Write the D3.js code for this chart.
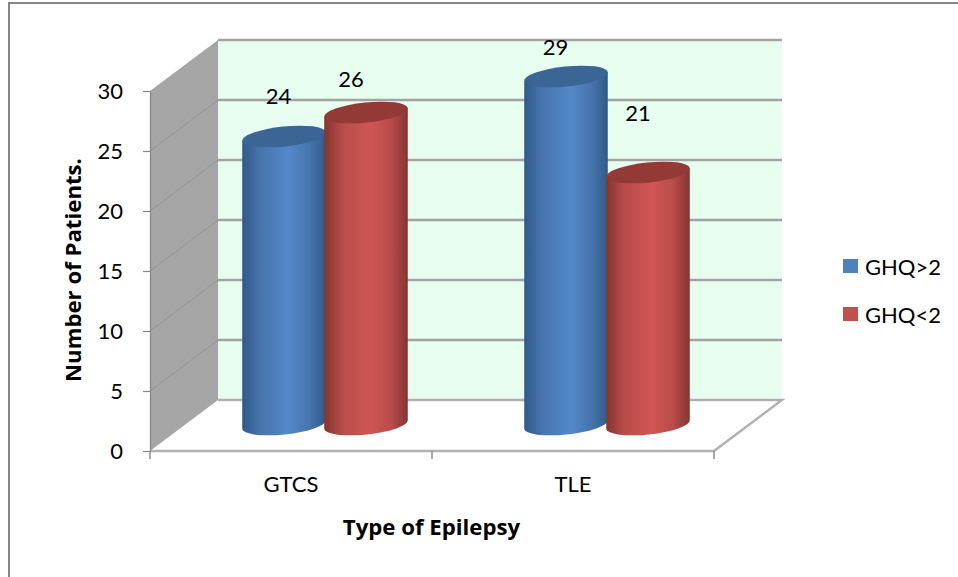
<!DOCTYPE html>
<html>
<head>
<meta charset="utf-8">
<script src="https://cdn.jsdelivr.net/npm/d3@7"></script>
<style>
html,body{margin:0;padding:0;background:#fff}
svg{display:block}
text{fill:#000}
</style>
</head>
<body>
<svg id="chart" width="958" height="577"></svg>
<script>
// Chart content
const categories = ["GTCS", "TLE"];
const seriesNames = ["GHQ>2", "GHQ<2"];
const ghqAbove2 = [24, 29];
const ghqBelow2 = [26, 21];
const yTicks = [0, 5, 10, 15, 20, 25, 30];
const xTitle = "Type of Epilepsy";
const yTitle = "Number of Patients.";

// Palette per series: body edge, body mid, body highlight, cap, legend
const bodyEdge = ["#305a8a", "#853431"];
const bodyMid = ["#4775ac", "#b84c49"];
const bodyLight = ["#5388cb", "#cf5654"];
const capFill = ["#3b6595", "#933a37"];
const swatchFill = ["#4f81bd", "#c0504d"];

// Data labels sit away from the bars, as hand-dragged labels do
const labelShiftX = [[-5.5, -15], [-10.5, -10]];
const labelShiftY = [[-41, -34], [-30, -60]];

const svg = d3.select("#chart").style("font-family", "Lato, sans-serif");
const depthX = 68, depthY = 51;
const plotLeft = 150, plotRight = 714, plotBottom = 451, plotTop = 91;
const labelSize = 22;
const titleSize = 22.2;
const titleFont = "'Open Sans', sans-serif";

// Front-plane scales; the back wall is the same plane shifted by the depth
const y = d3.scaleLinear().domain([0, 30]).range([plotBottom, plotTop]);
const xFront = d3.scaleBand().domain(categories).range([plotLeft, plotRight]);
const xGroup = d3.scaleBand().domain(categories).range([plotLeft + depthX / 2, plotRight + depthX / 2]);
const xSeries = d3.scaleBand().domain(seriesNames).range([59, 223]);
// Bars stand in the middle of the floor
const yBar = d3.scaleLinear().domain([0, 30]).range([plotBottom - 26.5, plotTop - 26.5]);

// Chart frame: only the top and left edges are visible
svg.append("path").attr("d", "M958,3H9V577").attr("fill", "none")
  .attr("stroke", "#868686").attr("stroke-width", 2);

// Floor
svg.append("path")
  .attr("d", `M${plotLeft},${plotBottom}L${plotLeft + depthX},${plotBottom - depthY}H${plotRight + depthX}L${plotRight},${plotBottom}Z`)
  .attr("fill", "#fff");

// Back wall
svg.append("rect")
  .attr("x", plotLeft + depthX).attr("y", plotTop - depthY)
  .attr("width", plotRight - plotLeft).attr("height", plotBottom - plotTop)
  .attr("fill", "#e7fdf0");

// Side wall
svg.append("path")
  .attr("d", `M${plotLeft},${plotBottom}V${plotTop}L${plotLeft + depthX},${plotTop - depthY}V${plotBottom - depthY}Z`)
  .attr("fill", "#a6a6a6");

// Gridlines on both walls
const grid = svg.append("g");
grid.selectAll("line.back").data(yTicks.slice(1)).join("line")
  .attr("class", "back")
  .attr("x1", plotLeft + depthX).attr("x2", plotRight + depthX)
  .attr("y1", d => y(d) - depthY).attr("y2", d => y(d) - depthY)
  .attr("stroke", "#a3a3a3").attr("stroke-width", 2.6);
grid.selectAll("line.side").data(yTicks.slice(1, -1)).join("line")
  .attr("class", "side")
  .attr("x1", plotLeft).attr("x2", plotLeft + depthX)
  .attr("y1", d => y(d)).attr("y2", d => y(d) - depthY)
  .attr("stroke", "#929292").attr("stroke-width", 1);

// Floor edges
svg.append("path")
  .attr("d", `M${plotLeft + depthX},${plotBottom - depthY}H${plotRight + depthX}L${plotRight},${plotBottom}H${plotLeft}`)
  .attr("fill", "none").attr("stroke", "#b0b0b0").attr("stroke-width", 2.4);

// Y axis
const yAxis = svg.append("g").attr("transform", `translate(${plotLeft},0)`)
  .call(d3.axisLeft(y).tickValues(yTicks).tickSize(7).tickPadding(20));
yAxis.selectAll("line,path").attr("stroke", "#868686").attr("stroke-width", 1.2);
yAxis.attr("font-family", null);
yAxis.selectAll("text").attr("font-size", labelSize);

// X axis: ticks at the band edges, names at the band centres
const xAxisLine = svg.append("g");
xAxisLine.selectAll("line").data([...categories.map(c => xFront(c)), plotRight]).join("line")
  .attr("x1", d => d).attr("x2", d => d)
  .attr("y1", plotBottom).attr("y2", plotBottom + 8)
  .attr("stroke", "#868686").attr("stroke-width", 1.4);
const xAxis = svg.append("g").attr("transform", `translate(0,${plotBottom})`)
  .call(d3.axisBottom(xFront).tickSize(0).tickPadding(25));
xAxis.select("path").remove();
xAxis.attr("font-family", null);
xAxis.selectAll("text").attr("font-size", labelSize);

// Cylinders
const defs = svg.append("defs");
seriesNames.forEach((s, i) => {
  const g = defs.append("linearGradient").attr("id", `body${i}`);
  [[0, bodyEdge[i]], [0.22, bodyMid[i]], [0.55, bodyLight[i]], [0.8, bodyMid[i]], [1, bodyEdge[i]]]
    .forEach(([o, c]) => g.append("stop").attr("offset", o).attr("stop-color", c));
});

const rows = [ghqAbove2, ghqBelow2];
const tilt = 6 * Math.PI / 180;
const bars = svg.append("g");
// The red cylinder is drawn after the blue one so it overlaps at the seam
seriesNames.forEach((s, si) => {
  categories.forEach((c, ci) => {
    const v = rows[si][ci];
    const w = xSeries.bandwidth();
    const cx = xGroup(c) + xSeries(s) + w / 2;
    const rx = w / 2 + 1, ry = 10;
    const dx = rx * Math.cos(tilt), dy = rx * Math.sin(tilt);
    const yt = yBar(v), yb = yBar(0);
    const deg = -tilt * 180 / Math.PI;
    bars.append("path")
      .attr("d", `M${cx - dx},${yt + dy}L${cx - dx},${yb + dy}` +
        `A${rx},${ry} ${deg} 0 0 ${cx + dx},${yb - dy}` +
        `L${cx + dx},${yt - dy}Z`)
      .attr("fill", `url(#body${si})`);
    bars.append("ellipse")
      .attr("cx", 0).attr("cy", 0).attr("rx", rx).attr("ry", ry)
      .attr("transform", `translate(${cx},${yt}) rotate(${deg})`)
      .attr("fill", capFill[si]);
    svg.append("text")
      .attr("x", cx + labelShiftX[ci][si]).attr("y", yt + labelShiftY[ci][si])
      .attr("text-anchor", "middle").attr("dominant-baseline", "central")
      .attr("font-size", labelSize).text(v);
  });
});

// Axis titles
svg.append("text").attr("x", 431.5).attr("y", 526)
  .attr("text-anchor", "middle").attr("dominant-baseline", "central")
  .style("font-family", titleFont).attr("font-size", titleSize).attr("font-weight", 700).text(xTitle);
svg.append("text").attr("transform", "translate(72,270) rotate(-90)")
  .attr("text-anchor", "middle").attr("dominant-baseline", "central")
  .style("font-family", titleFont).attr("font-size", titleSize).attr("font-weight", 700).text(yTitle);

// Legend
const legendY = d3.scalePoint().domain(seriesNames).range([266, 314]);
const legend = svg.append("g").selectAll("g").data(seriesNames).join("g")
  .attr("transform", d => `translate(843,${legendY(d)})`);
legend.append("rect").attr("y", -7).attr("width", 15).attr("height", 14)
  .attr("fill", (d, i) => swatchFill[i]);
legend.append("text").attr("x", 22).attr("dominant-baseline", "central")
  .attr("font-size", labelSize).text(d => d);
</script>
</body>
</html>
